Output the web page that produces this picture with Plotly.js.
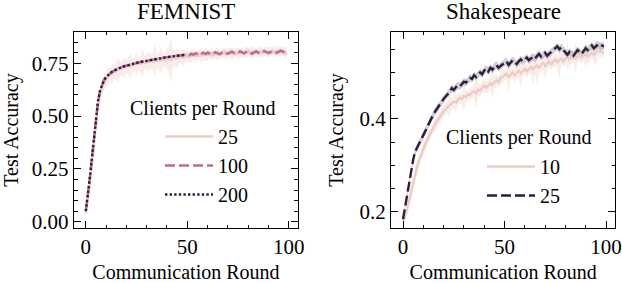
<!DOCTYPE html>
<html>
<head>
<meta charset="utf-8">
<script src="https://cdn.plot.ly/plotly-3.0.1.min.js"></script>
<style>html,body{margin:0;padding:0;background:#fff}#chart{width:622px;height:283px}</style>
</head>
<body>
<div id="chart"></div>
<script>
// ---------- data ----------
const rounds = [0,1,2,3,4,5,6,7,8,9,10,11,12,13,14,15,16,17,18,19,20,21,22,23,24,25,26,27,28,29,30,31,32,33,34,35,36,37,38,39,40,41,42,43,44,45,46,47,48,49,50,51,52,53,54,55,56,57,58,59,60,61,62,63,64,65,66,67,68,69,70,71,72,73,74,75,76,77,78,79,80,81,82,83,84,85,86,87,88,89,90,91,92,93,94,95,96,97,98,99];
const rounds50 = [0,1,2,3,4,5,6,7,8,9,10,11,12,13,14,15,16,17,18,19,20,21,22,23,24,25,26,27,28,29,30,31,32,33,34,35,36,37,38,39,40,41,42,43,44,45,46,47,48,49];

// FEMNIST
const femnist25 = [0.04,0.10,0.18,0.27,0.37,0.47,0.55,0.60,0.64,0.66,0.675,0.69,0.695,0.70,0.71,0.712,0.72,0.722,0.728,0.73,0.735,0.738,0.736,0.742,0.745,0.746,0.75,0.748,0.752,0.755,0.754,0.758,0.76,0.757,0.762,0.764,0.76,0.766,0.768,0.764,0.77,0.772,0.765,0.775,0.776,0.772,0.778,0.78,0.776,0.782,0.784,0.78,0.786,0.787,0.782,0.788,0.79,0.785,0.791,0.792,0.788,0.793,0.795,0.79,0.796,0.794,0.79,0.797,0.799,0.793,0.798,0.80,0.795,0.799,0.801,0.796,0.80,0.802,0.797,0.801,0.803,0.798,0.802,0.804,0.799,0.803,0.805,0.80,0.804,0.806,0.801,0.805,0.806,0.802,0.806,0.807,0.803,0.806,0.805,0.792];
const femnist25Err = [0.02,0.03,0.04,0.04,0.04,0.04,0.035,0.03,0.035,0.04,0.03,0.045,0.03,0.05,0.03,0.04,0.06,0.03,0.035,0.05,0.03,0.04,0.06,0.03,0.035,0.05,0.03,0.04,0.07,0.03,0.035,0.05,0.03,0.045,0.08,0.03,0.04,0.06,0.03,0.035,0.05,0.06,0.11,0.04,0.035,0.05,0.03,0.03,0.04,0.025,0.03,0.02,0.035,0.02,0.03,0.025,0.02,0.035,0.02,0.03,0.025,0.02,0.03,0.02,0.025,0.03,0.02,0.025,0.02,0.03,0.02,0.025,0.03,0.02,0.02,0.03,0.02,0.025,0.02,0.03,0.02,0.025,0.03,0.02,0.025,0.02,0.03,0.02,0.025,0.02,0.03,0.02,0.025,0.02,0.03,0.02,0.025,0.02,0.025,0.03];
const femnist100 = [0.05,0.12,0.21,0.30,0.40,0.50,0.57,0.62,0.65,0.67,0.685,0.695,0.703,0.71,0.716,0.721,0.725,0.729,0.733,0.736,0.739,0.742,0.745,0.747,0.750,0.752,0.754,0.756,0.758,0.760,0.762,0.764,0.766,0.768,0.769,0.771,0.773,0.774,0.776,0.777,0.779,0.780,0.782,0.783,0.784,0.786,0.787,0.788,0.789,0.790,0.792,0.788,0.795,0.790,0.797,0.793,0.789,0.796,0.799,0.794,0.800,0.796,0.791,0.798,0.802,0.797,0.793,0.800,0.804,0.798,0.795,0.801,0.805,0.799,0.794,0.800,0.806,0.801,0.797,0.803,0.807,0.800,0.796,0.802,0.806,0.800,0.797,0.804,0.808,0.802,0.798,0.803,0.807,0.804,0.799,0.805,0.809,0.806,0.800,0.796];
const femnist100Err = [0.01,0.012,0.012,0.012,0.012,0.012,0.01,0.01,0.01,0.008,0.008,0.008,0.008,0.008,0.008,0.008,0.008,0.008,0.008,0.008,0.007,0.007,0.007,0.007,0.007,0.007,0.007,0.007,0.007,0.007,0.007,0.007,0.007,0.007,0.007,0.007,0.007,0.007,0.007,0.007,0.007,0.007,0.007,0.007,0.007,0.007,0.007,0.007,0.007,0.007,0.009,0.01,0.008,0.011,0.009,0.01,0.012,0.009,0.01,0.008,0.011,0.01,0.012,0.009,0.01,0.011,0.01,0.009,0.012,0.01,0.009,0.011,0.01,0.012,0.01,0.009,0.011,0.01,0.012,0.009,0.01,0.011,0.012,0.01,0.009,0.011,0.01,0.012,0.009,0.01,0.011,0.01,0.012,0.009,0.01,0.011,0.01,0.012,0.01,0.012];
const femnist200 = [0.05,0.12,0.21,0.30,0.40,0.50,0.57,0.62,0.65,0.67,0.685,0.695,0.703,0.71,0.716,0.721,0.725,0.729,0.733,0.736,0.739,0.742,0.745,0.747,0.750,0.752,0.754,0.756,0.758,0.760,0.762,0.764,0.766,0.768,0.769,0.771,0.773,0.774,0.776,0.777,0.779,0.780,0.782,0.783,0.784,0.786,0.787,0.788,0.789,0.790];

// Shakespeare
const shakes10 = [0.18,0.19,0.205,0.225,0.245,0.265,0.282,0.298,0.312,0.325,0.336,0.346,0.356,0.365,0.374,0.382,0.39,0.397,0.404,0.41,0.416,0.421,0.426,0.43,0.434,0.437,0.435,0.441,0.445,0.443,0.449,0.447,0.453,0.451,0.457,0.459,0.455,0.463,0.461,0.467,0.471,0.467,0.473,0.477,0.473,0.479,0.483,0.479,0.488,0.49,0.494,0.497,0.49,0.496,0.50,0.494,0.50,0.504,0.498,0.504,0.508,0.502,0.508,0.512,0.506,0.512,0.515,0.51,0.516,0.52,0.514,0.52,0.524,0.518,0.524,0.528,0.522,0.526,0.53,0.524,0.53,0.534,0.528,0.532,0.536,0.53,0.534,0.538,0.532,0.536,0.54,0.534,0.538,0.542,0.538,0.542,0.546,0.546,0.544,0.542];
const shakes10Err = [0.008,0.01,0.012,0.014,0.015,0.016,0.016,0.015,0.015,0.014,0.013,0.012,0.012,0.012,0.011,0.012,0.012,0.011,0.012,0.013,0.012,0.012,0.014,0.025,0.012,0.013,0.02,0.012,0.013,0.012,0.03,0.013,0.012,0.014,0.013,0.015,0.035,0.013,0.014,0.012,0.015,0.013,0.014,0.012,0.03,0.013,0.014,0.012,0.015,0.013,0.012,0.014,0.035,0.013,0.012,0.015,0.013,0.014,0.03,0.012,0.013,0.015,0.012,0.014,0.035,0.013,0.04,0.012,0.014,0.013,0.03,0.012,0.014,0.013,0.012,0.015,0.013,0.04,0.012,0.014,0.013,0.03,0.012,0.014,0.013,0.035,0.012,0.014,0.013,0.012,0.03,0.013,0.014,0.012,0.013,0.03,0.012,0.014,0.013,0.012];
const shakes25 = [0.184,0.21,0.238,0.265,0.29,0.312,0.33,0.338,0.346,0.356,0.365,0.374,0.384,0.394,0.402,0.41,0.417,0.424,0.43,0.437,0.443,0.448,0.453,0.458,0.466,0.462,0.468,0.472,0.47,0.476,0.48,0.478,0.484,0.488,0.486,0.494,0.49,0.496,0.50,0.496,0.504,0.508,0.502,0.51,0.506,0.512,0.516,0.51,0.514,0.518,0.522,0.524,0.516,0.52,0.526,0.522,0.518,0.524,0.528,0.524,0.528,0.532,0.526,0.53,0.534,0.53,0.536,0.54,0.534,0.538,0.542,0.536,0.54,0.546,0.55,0.552,0.556,0.55,0.554,0.548,0.542,0.538,0.544,0.54,0.536,0.542,0.548,0.544,0.54,0.546,0.552,0.548,0.554,0.558,0.552,0.556,0.56,0.556,0.558,0.556];
const shakes25Err = [0.005,0.006,0.007,0.008,0.008,0.008,0.008,0.008,0.008,0.008,0.008,0.008,0.008,0.008,0.008,0.008,0.008,0.008,0.008,0.008,0.008,0.008,0.008,0.008,0.008,0.008,0.008,0.008,0.008,0.008,0.008,0.008,0.008,0.008,0.008,0.008,0.008,0.008,0.008,0.008,0.008,0.008,0.008,0.008,0.008,0.008,0.008,0.008,0.008,0.008,0.008,0.008,0.008,0.008,0.008,0.008,0.008,0.008,0.008,0.008,0.008,0.008,0.008,0.008,0.008,0.008,0.008,0.008,0.008,0.008,0.008,0.008,0.008,0.008,0.008,0.008,0.008,0.008,0.008,0.008,0.008,0.008,0.008,0.008,0.008,0.008,0.008,0.008,0.008,0.008,0.008,0.008,0.008,0.008,0.008,0.008,0.008,0.008,0.008,0.008];

const femnistNames = ['25','100','200'];
const shakesNames = ['10','25'];
const titles = ['FEMNIST','Shakespeare'];
const legendTitle = 'Clients per Round';
const xTitle = 'Communication Round';
const yTitle = 'Test Accuracy';

// ---------- styling ----------
const cLight = '#ecccc4', cMid = '#b96c94', cDark = '#2d1e3e';
const FONT = 'Liberation Serif, Times New Roman, serif';

function band(x, y, e, color, xa, ya) {
  const up = y.map((v, i) => v + e[i]);
  const lo = y.map((v, i) => v - e[i]);
  return {x: x.concat(x.slice().reverse()), y: up.concat(lo.slice().reverse()),
    xaxis: xa, yaxis: ya, type: 'scatter', mode: 'lines', fill: 'toself',
    fillcolor: color, line: {width: 0}, showlegend: false, hoverinfo: 'skip'};
}
function line(x, y, name, color, dash, xa, ya, leg) {
  return {x: x, y: y, name: name, xaxis: xa, yaxis: ya, type: 'scatter', mode: 'lines',
    line: {color: color, width: 2.4, dash: dash}, legend: leg, legendgroup: leg + name};
}

const data = [
  band(rounds, femnist25, femnist25Err, 'rgba(236,204,196,0.35)', 'x', 'y'),
  band(rounds, femnist100, femnist100Err, 'rgba(185,108,148,0.2)', 'x', 'y'),
  line(rounds, femnist25, femnistNames[0], cLight, 'solid', 'x', 'y', 'legend'),
  line(rounds, femnist100, femnistNames[1], cMid, '10px,4px', 'x', 'y', 'legend'),
  line(rounds50, femnist200, femnistNames[2], cDark, '2.4px,2.2px', 'x', 'y', 'legend'),
  band(rounds, shakes10, shakes10Err, 'rgba(236,204,196,0.35)', 'x2', 'y2'),
  band(rounds, shakes25, shakes25Err, 'rgba(45,30,62,0.22)', 'x2', 'y2'),
  line(rounds, shakes10, shakesNames[0], cLight, 'solid', 'x2', 'y2', 'legend2'),
  line(rounds, shakes25, shakesNames[1], cDark, '10px,4px', 'x2', 'y2', 'legend2')
];

const tickFont = {family: FONT, size: 21, color: '#000'};
function xaxis(domain, anchor) {
  return {domain: domain, anchor: anchor, range: [-5.8, 104.5], tickvals: [0, 50, 100],
    ticks: 'inside', ticklen: 7, tickwidth: 1, tickcolor: '#000', showline: true, linecolor: '#000',
    linewidth: 1.2, mirror: 'allticks', showgrid: false, zeroline: false, tickfont: tickFont,
    ticklabeloverflow: 'allow',
    minor: {dtick: 10, tick0: 0, ticks: 'inside', ticklen: 3.5, tickcolor: '#000', tickwidth: 1},
    title: {text: xTitle, font: {family: FONT, size: 20, color: '#000'}, standoff: 9}, automargin: false};
}
function yaxis(domain, anchor, range, dtick, minorDtick, fmt, standoff) {
  return {domain: domain, anchor: anchor, range: range, dtick: dtick, tick0: 0, tickformat: fmt,
    ticks: 'inside', ticklen: 7, tickwidth: 1, tickcolor: '#000', showline: true, linecolor: '#000',
    linewidth: 1.2, mirror: 'allticks', showgrid: false, zeroline: false, tickfont: tickFont,
    ticklabeloverflow: 'allow',
    minor: {dtick: minorDtick, tick0: 0, ticks: 'inside', ticklen: 3.5, tickcolor: '#000', tickwidth: 1},
    title: {text: yTitle, font: {family: FONT, size: 20, color: '#000'}, standoff: standoff}, automargin: false};
}
const yDom = [0.194, 0.887];
const legFont = {family: FONT, size: 20, color: '#000'};
const layout = {
  width: 622, height: 283, margin: {l: 0, r: 0, t: 0, b: 0},
  paper_bgcolor: '#fff', plot_bgcolor: '#fff', showlegend: true,
  xaxis: xaxis([0.119, 0.479], 'y'),
  yaxis: yaxis(yDom, 'x', [-0.03, 0.898], 0.25, 0.05, '.2f', 14),
  xaxis2: xaxis([0.629, 0.989], 'y2'),
  yaxis2: yaxis(yDom, 'x2', [0.165, 0.587], 0.2, 0.05, '.1f', 10),
  legend: {x: 160 / 622, y: 1 - 117 / 283, xanchor: 'left', yanchor: 'top', bgcolor: 'rgba(0,0,0,0)',
    font: legFont, itemwidth: 48, traceorder: 'normal'},
  legend2: {x: 482 / 622, y: 1 - 147 / 283, xanchor: 'left', yanchor: 'top', bgcolor: 'rgba(0,0,0,0)',
    font: legFont, itemwidth: 48, traceorder: 'normal'},
  annotations: [
    {text: titles[0], x: 0.299, y: 1, xref: 'paper', yref: 'paper', xanchor: 'center', yanchor: 'top', yshift: 3, showarrow: false, font: {family: FONT, size: 23, color: '#000'}},
    {text: titles[1], x: 0.809, y: 1, xref: 'paper', yref: 'paper', xanchor: 'center', yanchor: 'top', yshift: 3, showarrow: false, font: {family: FONT, size: 23, color: '#000'}},
    {text: legendTitle, x: 128 / 622, y: 1 - 108 / 283, xref: 'paper', yref: 'paper', xanchor: 'left', yanchor: 'middle', showarrow: false, font: legFont},
    {text: legendTitle, x: 444 / 622, y: 1 - 137 / 283, xref: 'paper', yref: 'paper', xanchor: 'left', yanchor: 'middle', showarrow: false, font: legFont}
  ]
};
Plotly.newPlot('chart', data, layout, {staticPlot: true, displayModeBar: false});
</script>
</body>
</html>
